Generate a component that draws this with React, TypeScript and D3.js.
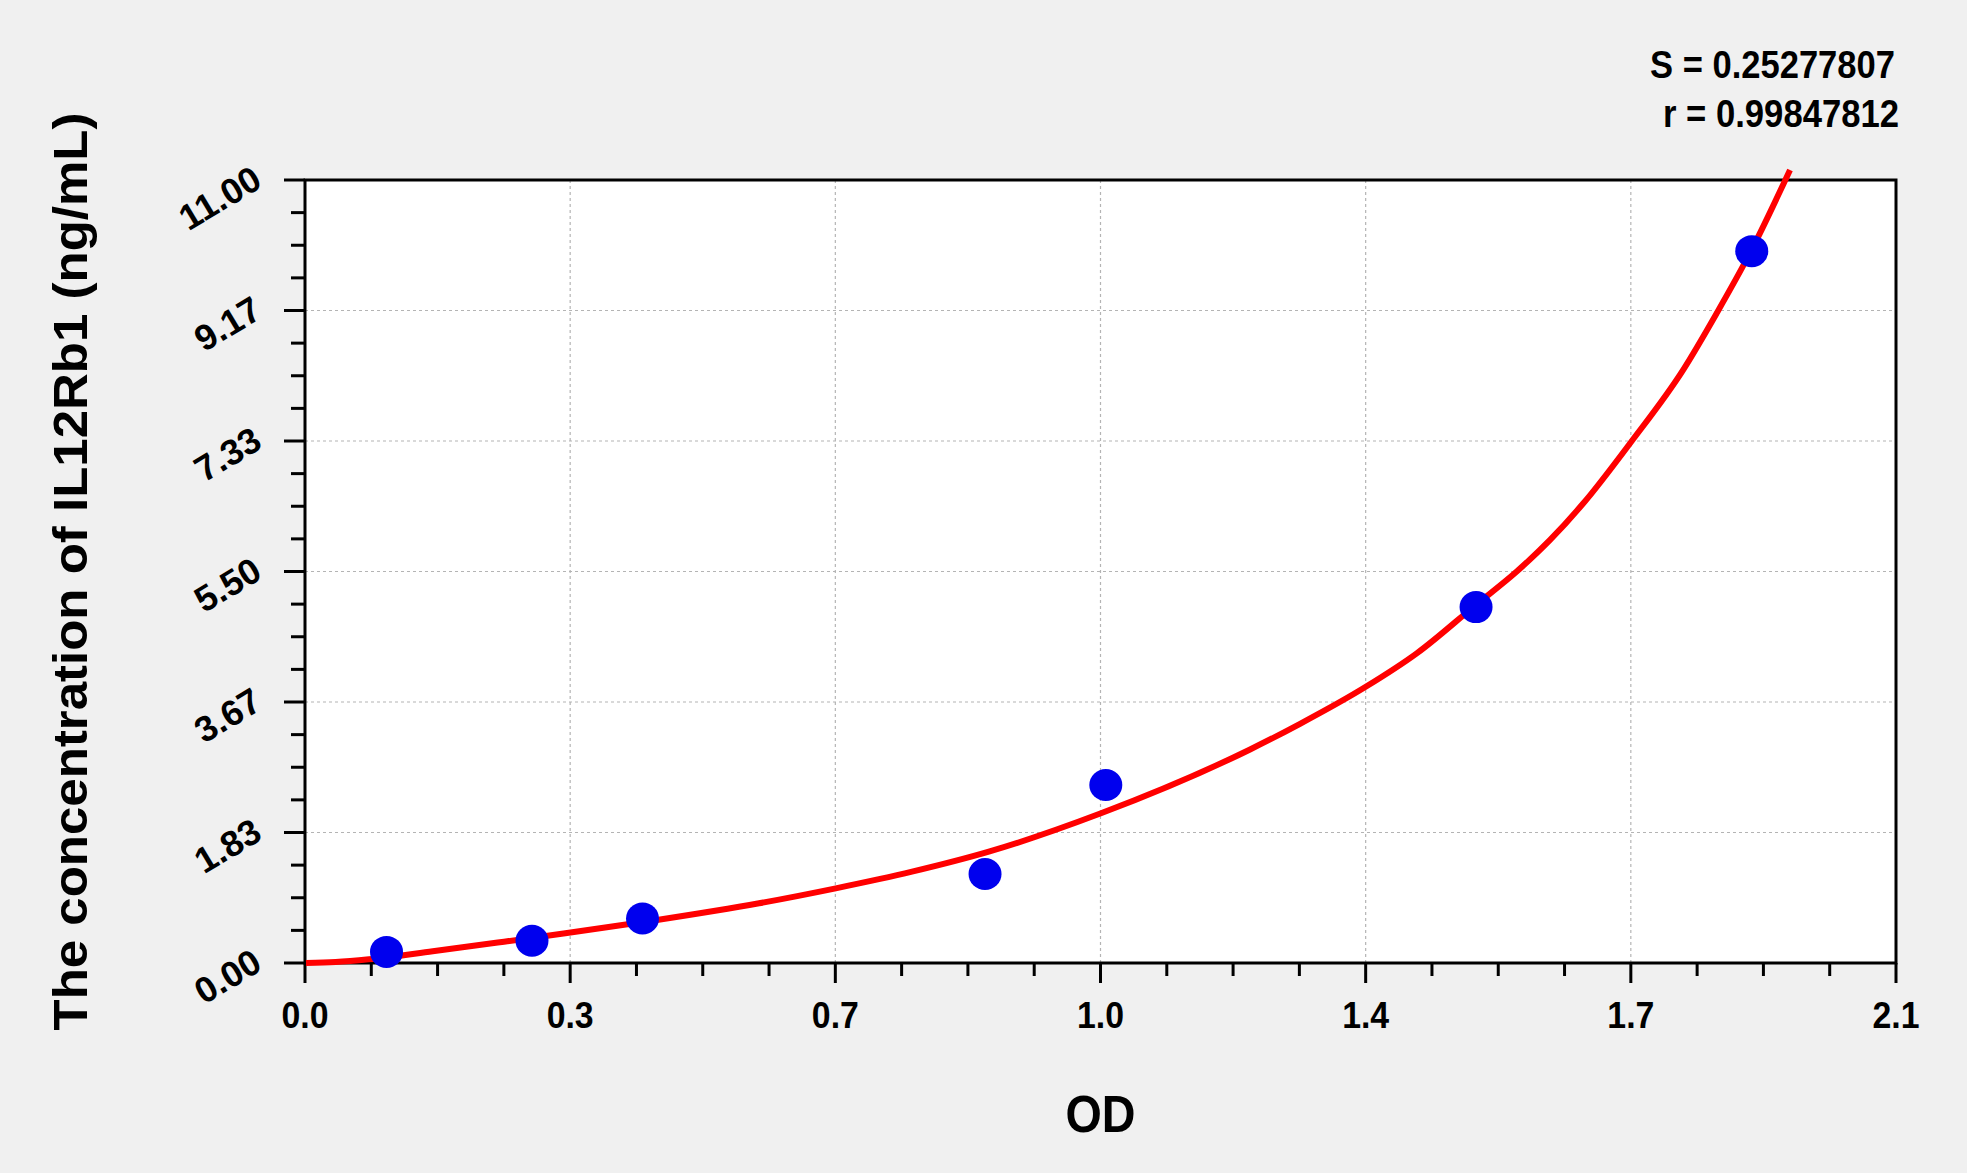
import React from "react";
import * as d3 from "d3";

const W = 1967;
const H = 1173;

// Standard points (OD, concentration ng/mL)
const pointOD = [0.1076, 0.2996, 0.4455, 0.8976, 1.057, 1.5457, 1.9096];
const pointConc = [0.156, 0.312, 0.625, 1.25, 2.5, 5.0, 10.0];

// Fitted curve
const curveOD = [0.0013, 0.0405, 0.0843, 0.1686, 0.2627, 0.3436, 0.4646, 0.5993, 0.7005, 0.8012, 0.9026, 1.0506, 1.2474, 1.3134, 1.4001, 1.4674, 1.5453, 1.5994, 1.6434, 1.6873, 1.7503, 1.8189, 1.8634, 1.9073, 1.9601];
const curveConc = [0.0, 0.014, 0.052, 0.165, 0.299, 0.417, 0.604, 0.839, 1.049, 1.283, 1.564, 2.103, 3.0, 3.36, 3.88, 4.35, 5.03, 5.5, 5.943, 6.458, 7.32, 8.33, 9.13, 9.975, 11.141];

const xTickValues = [0, 0.35, 0.7, 1.05, 1.4, 1.75, 2.1];
const xTickLabels = ["0.0", "0.3", "0.7", "1.0", "1.4", "1.7", "2.1"];
const yTickValues = [0, 11 / 6, 22 / 6, 5.5, 44 / 6, 55 / 6, 11];
const yTickLabels = ["0.00", "1.83", "3.67", "5.50", "7.33", "9.17", "11.00"];

const statS = "S = 0.25277807";
const statR = "r = 0.99847812";
const xTitle = "OD";
const yTitle = "The concentration of IL12Rb1 (ng/mL)";

const FONT = "'Liberation Sans', Arial, sans-serif";

export default function App() {
  const left = 305, right = 1896, top = 180, bottom = 963;
  const x = d3.scaleLinear().domain([0, 2.1]).range([left, right]);
  const y = d3.scaleLinear().domain([0, 11]).range([bottom, top]);

  const minorX: number[] = [];
  for (let i = 0; i < xTickValues.length - 1; i++) {
    const a = xTickValues[i], b = xTickValues[i + 1];
    for (let k = 1; k < 4; k++) minorX.push(a + ((b - a) * k) / 4);
  }
  const minorY: number[] = [];
  for (let i = 0; i < yTickValues.length - 1; i++) {
    const a = yTickValues[i], b = yTickValues[i + 1];
    for (let k = 1; k < 4; k++) minorY.push(a + ((b - a) * k) / 4);
  }

  const line = d3
    .line<number>()
    .x((_, i) => x(curveOD[i]))
    .y((_, i) => y(curveConc[i]))
    .curve(d3.curveMonotoneX);

  return (
    <svg
      width={W}
      height={H}
      style={{ position: "absolute", left: 0, top: 0, display: "block" }}
      fontFamily={FONT}
    >
      <rect x={0} y={0} width={W} height={H} fill="#f0f0f0" />
      <rect x={left} y={top} width={right - left} height={bottom - top} fill="#ffffff" />

      {/* grid */}
      {xTickValues.slice(1, -1).map((v, i) => (
        <line key={"gx" + i} x1={x(v)} x2={x(v)} y1={top} y2={bottom} stroke="#b4b4b4" strokeWidth={1.2} strokeDasharray="3,3" />
      ))}
      {yTickValues.slice(1, -1).map((v, i) => (
        <line key={"gy" + i} x1={left} x2={right} y1={y(v)} y2={y(v)} stroke="#b4b4b4" strokeWidth={1.2} strokeDasharray="3,3" />
      ))}

      {/* frame */}
      <rect x={left} y={top} width={right - left} height={bottom - top} fill="none" stroke="#000" strokeWidth={3} />

      {/* x ticks */}
      {xTickValues.map((v, i) => (
        <line key={"xt" + i} x1={x(v)} x2={x(v)} y1={bottom} y2={bottom + 20} stroke="#000" strokeWidth={3} />
      ))}
      {minorX.map((v, i) => (
        <line key={"xm" + i} x1={x(v)} x2={x(v)} y1={bottom} y2={bottom + 13} stroke="#000" strokeWidth={3} />
      ))}
      {xTickValues.map((v, i) => (
        <text key={"xl" + i} x={x(v)} y={1028} textAnchor="middle" fontSize={36} fontWeight="bold" fill="#000" textLength={47} lengthAdjust="spacingAndGlyphs">
          {xTickLabels[i]}
        </text>
      ))}

      {/* y ticks */}
      {yTickValues.map((v, i) => (
        <line key={"yt" + i} x1={left - 21} x2={left} y1={y(v)} y2={y(v)} stroke="#000" strokeWidth={3} />
      ))}
      {minorY.map((v, i) => (
        <line key={"ym" + i} x1={left - 14} x2={left} y1={y(v)} y2={y(v)} stroke="#000" strokeWidth={3} />
      ))}
      {yTickValues.map((v, i) => (
        <text
          key={"yl" + i}
          transform={`translate(264,${y(v) + 6}) rotate(-31)`}
          textAnchor="end"
          fontSize={36}
          fontWeight="bold"
          fill="#000"
        >
          {yTickLabels[i]}
        </text>
      ))}

      {/* curve */}
      <path d={line(curveOD) || ""} fill="none" stroke="#ff0000" strokeWidth={6} strokeLinejoin="round" strokeLinecap="butt" />

      {/* points */}
      {pointOD.map((v, i) => (
        <ellipse key={"p" + i} cx={x(v)} cy={y(pointConc[i])} rx={16.5} ry={16} fill="#0000ee" />
      ))}

      {/* titles */}
      <text x={(left + right) / 2} y={1132} textAnchor="middle" fontSize={52} fontWeight="bold" textLength={70} lengthAdjust="spacingAndGlyphs">
        {xTitle}
      </text>
      <text
        transform={`translate(87,${(top + bottom) / 2}) rotate(-90)`}
        textAnchor="middle"
        fontSize={49}
        fontWeight="bold"
        textLength={918}
        lengthAdjust="spacingAndGlyphs"
      >
        {yTitle}
      </text>

      {/* stats */}
      <text x={1895} y={78} textAnchor="end" fontSize={39} fontWeight="bold" textLength={245} lengthAdjust="spacingAndGlyphs">
        {statS}
      </text>
      <text x={1899} y={127} textAnchor="end" fontSize={39} fontWeight="bold" textLength={236} lengthAdjust="spacingAndGlyphs">
        {statR}
      </text>
    </svg>
  );
}
